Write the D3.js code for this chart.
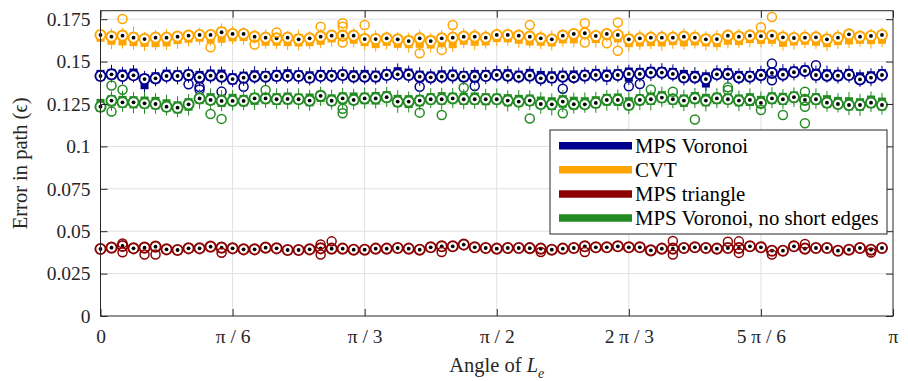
<!DOCTYPE html>
<html>
<head>
<meta charset="utf-8">
<script src="https://cdn.jsdelivr.net/npm/d3@7"></script>
<style>
  body { margin: 0; background: #fff; }
  svg { display: block; }
</style>
</head>
<body>
<svg id="chart" width="908" height="381"></svg>
<script>
// Path error per direction of L_e, 72 directions in [0, π), step 2.5°.
const anglesDeg = d3.range(0, 180, 2.5);

const seriesNames = ["MPS Voronoi", "CVT", "MPS triangle", "MPS Voronoi, no short edges"];
const seriesColors = ["#00008c", "#ffa500", "#8b0000", "#228b22"];

const xTickValues = [0, Math.PI / 6, Math.PI / 3, Math.PI / 2, 2 * Math.PI / 3, 5 * Math.PI / 6, Math.PI];
const xTickLabels = ["0", "π / 6", "π / 3", "π / 2", "2 π / 3", "5 π / 6", "π"];
const yTickValues = [0, 0.025, 0.05, 0.075, 0.1, 0.125, 0.15, 0.175];
const yTickLabels = ["0", "0.025", "0.05", "0.075", "0.1", "0.125", "0.15", "0.175"];

// All values below are in units of 1e-3.
// Medians; box = [median - boxDown, median + boxUp]; whiskers extend beyond the box.

// ---- MPS Voronoi ----
const voronoiMedian = [
  141.5,142.5,141.5,141.9,139.7,140.1,141.5,141.5,142.1,140.7,141.7,141.1,
  139.7,140.5,141.1,141.1,141.5,141.5,141.5,140.5,141.5,141.6,142.1,141.1,
  141.1,141.1,142.1,142.5,142.1,141.1,140.7,141.1,141.7,141.1,141.1,141.5,
  142.1,141.7,141.1,141.7,140.1,140.5,141.1,140.8,141.7,142.1,141.5,142.1,
  142.7,142.7,143.5,143.5,142.7,140.7,140.7,139.7,142.5,142.5,140.7,141.1,
  142.0,143.3,142.3,143.7,144.5,142.1,141.7,141.7,142.1,139.5,140.5,142.1];
const voronoiBoxUp = [
  3.6,3.2,3.8,4.0,3.0,3.6,3.8,3.4,3.2,3.8,3.6,4.2,
  3.4,3.6,3.8,3.4,3.6,4.0,3.4,3.8,3.6,3.4,3.2,3.8,
  4.0,3.6,3.4,4.2,3.8,3.6,3.4,3.8,3.6,3.4,4.0,3.6,
  3.4,3.8,3.6,4.0,4.4,3.8,3.6,4.0,3.4,3.6,3.8,3.4,
  3.8,3.6,3.4,3.2,3.6,4.4,3.8,4.0,3.4,3.6,3.8,3.4,
  3.6,2.0,3.8,3.4,3.2,3.6,3.8,3.4,3.6,4.2,3.8,3.4];
const voronoiBoxDown = [
  2.6,3.0,2.4,2.6,6.0,2.8,2.4,2.6,3.0,3.2,2.8,2.6,
  3.2,2.8,2.4,2.6,3.0,2.4,2.6,2.8,2.4,2.6,2.8,2.4,
  2.6,3.0,2.8,2.4,2.6,3.0,2.8,2.4,2.6,2.8,3.2,2.4,
  2.6,2.8,2.4,2.6,2.8,3.0,2.6,2.4,2.8,2.6,3.2,2.8,
  4.6,3.0,2.6,2.4,2.8,2.6,2.4,5.0,2.6,3.0,2.4,2.6,
  2.8,2.2,2.6,2.8,2.4,3.0,2.6,2.8,2.4,2.6,3.0,2.6];
const voronoiWhiskerUp = [
  1.8,2.4,1.6,2.0,1.8,2.2,1.6,2.0,1.8,1.6,2.2,1.8,
  2.0,1.6,2.4,1.8,2.0,1.6,1.8,2.2,2.0,1.6,1.8,2.0,
  2.4,1.8,1.6,2.2,1.8,2.0,1.6,2.4,1.8,2.0,1.6,1.8,
  2.2,2.0,1.8,1.6,2.0,2.2,1.8,2.4,1.6,2.0,1.8,2.2,
  1.6,2.0,1.8,2.4,2.0,1.8,2.2,1.6,2.0,1.8,1.6,2.2,
  2.0,1.2,2.4,1.6,1.8,2.0,2.2,1.8,2.0,1.6,1.8,2.0];
const voronoiWhiskerDown = [
  2.0,1.8,2.4,1.6,2.2,1.8,2.0,2.4,1.6,2.0,1.8,2.2,
  1.6,2.0,1.8,2.4,1.6,2.0,2.2,1.8,2.0,1.6,2.4,1.8,
  2.0,1.6,2.2,1.8,2.0,2.4,1.6,1.8,2.2,2.0,1.6,2.4,
  1.8,2.0,1.6,2.2,1.8,2.0,2.4,1.6,2.0,1.8,2.2,1.6,
  2.0,1.8,2.4,2.0,1.6,2.2,1.8,2.0,1.6,2.4,1.8,2.0,
  2.2,1.0,1.8,2.0,2.4,1.8,1.6,2.0,2.2,1.8,2.0,1.6];
const voronoiOutliers = [
  [8,136.6],[9,135.0],[9,133.6],[11,132.3],[13,135.2],[29,135.2],[34,135.6],
  [42,134.0],[48,135.4],[49,136.8],[61,148.8],[61,139.0],[65,147.9]];

// ---- CVT ----
const cvtMedian = [
  165.7,164.7,165.3,164.1,163.3,164.1,164.1,164.7,165.3,165.7,165.7,167.3,
  166.3,166.3,164.7,164.1,163.7,164.1,163.1,163.7,164.7,165.3,165.3,165.3,
  163.3,163.3,163.7,163.1,162.1,163.7,162.1,163.7,164.1,164.7,164.7,164.1,
  165.7,165.7,165.3,164.7,163.7,163.1,165.3,166.3,166.7,165.1,166.3,165.7,
  163.1,163.7,164.1,164.1,164.1,164.7,164.1,163.1,163.3,165.3,164.7,165.3,
  165.0,165.3,164.3,163.9,164.1,164.3,163.1,164.1,166.1,164.7,165.1,165.7];
const cvtBoxUp = [
  2.2,1.8,2.5,3.0,2.0,2.6,2.4,1.6,1.8,2.0,1.5,3.2,
  1.8,1.6,2.2,2.8,2.0,2.4,3.2,2.2,1.8,1.6,1.4,2.0,
  2.6,2.8,2.2,2.0,3.0,2.4,3.2,2.6,2.2,1.8,2.4,2.6,
  1.6,1.8,2.0,2.2,2.6,2.8,1.8,1.4,1.6,2.0,1.4,1.8,
  3.0,2.6,2.4,2.2,2.4,2.0,2.6,3.0,2.8,1.8,2.0,1.6,
  1.8,1.6,2.2,2.4,2.2,2.0,3.0,2.4,1.4,2.2,2.0,1.8];
const cvtBoxDown = [
  4.0,4.8,5.8,5.0,4.6,5.6,5.2,4.4,4.2,4.0,4.8,6.2,
  4.4,4.2,3.2,4.8,4.4,5.0,4.2,4.6,4.8,4.0,2.6,4.8,
  4.2,5.4,4.4,5.0,4.2,5.6,4.4,5.2,6.2,4.8,5.4,4.6,
  4.2,4.4,4.8,5.2,4.4,4.2,4.6,5.6,3.0,4.2,3.6,4.4,
  4.6,4.8,5.0,5.2,4.4,5.8,4.6,4.2,4.8,5.4,5.0,4.4,
  4.6,4.8,5.6,4.4,4.2,5.0,4.6,4.4,6.0,4.2,4.8,5.2];
const cvtWhiskerUp = [
  2.4,3.0,2.0,3.6,2.2,1.8,2.6,2.0,1.6,2.2,1.8,2.0,
  2.8,2.4,1.8,2.0,1.0,1.6,2.4,2.0,2.6,1.8,2.2,2.6,
  2.0,2.4,1.8,2.2,2.0,2.8,1.6,2.4,2.0,3.2,2.2,1.8,
  2.4,2.0,1.6,2.2,2.0,2.6,2.2,2.0,2.4,1.8,2.2,2.6,
  2.0,2.4,1.8,2.2,2.0,3.0,2.2,1.8,2.4,2.0,2.6,2.2,
  1.8,2.0,2.4,2.0,2.6,2.2,1.8,2.4,2.0,1.8,2.2,2.6];
const cvtWhiskerDown = [
  2.0,2.6,1.8,2.2,2.4,1.6,2.0,2.8,2.2,1.8,1.6,2.0,
  1.6,2.2,0.8,1.8,2.0,2.4,2.2,1.8,2.0,2.6,1.0,1.8,
  2.4,2.0,2.2,1.6,2.6,2.0,2.4,1.0,2.2,2.0,2.6,1.8,
  2.4,2.0,2.2,1.6,2.0,2.4,1.8,2.2,1.2,2.6,1.0,2.2,
  2.4,2.0,1.8,2.6,2.2,2.0,1.8,2.4,2.0,2.2,1.6,2.4,
  2.0,1.8,2.2,2.6,2.0,1.8,2.4,2.2,2.0,1.8,2.6,2.0];
const cvtOutliers = [
  [2,175.1],[10,158.4],[14,160.1],[16,167.1],[20,170.6],[22,172.6],[22,170.6],
  [22,161.2],[24,171.6],[29,154.9],[31,156.9],[32,171.6],[39,171.6],[44,172.6],
  [44,161.2],[46,160.8],[47,173.0],[47,156.4],[60,170.2],[61,176.3]];

// ---- MPS triangle ----
const triangleMedian = [
  39.5,40.3,41.3,39.9,40.3,40.9,39.3,38.9,39.9,39.9,40.9,40.3,
  39.9,39.3,39.3,40.3,39.9,38.9,38.9,39.3,39.9,39.7,39.7,39.1,
  39.1,39.7,39.7,40.1,39.7,39.1,40.5,41.1,41.1,42.1,40.5,40.1,
  39.7,40.1,40.1,40.0,39.7,39.1,39.7,40.1,41.1,40.5,40.5,41.1,
  40.5,40.5,38.7,39.7,39.7,40.1,40.5,40.1,39.7,40.1,40.1,41.1,
  40.5,38.5,38.5,41.1,39.7,40.1,40.1,38.5,39.1,40.1,39.1,40.1];
const triangleBoxUp = [
  0.8,0.6,1.0,0.8,0.7,0.9,0.6,0.8,1.0,0.7,0.8,0.6,
  0.9,0.8,0.7,1.0,0.6,0.8,0.9,0.7,0.8,0.6,1.0,0.8,
  0.7,0.9,0.8,0.6,0.8,1.0,0.7,0.8,0.6,0.9,0.8,0.7,
  1.0,0.6,0.8,0.9,0.7,0.8,0.6,1.0,1.4,0.8,0.7,0.9,
  0.8,0.6,0.8,1.0,0.7,0.8,0.6,0.9,0.8,0.7,1.0,0.6,
  0.8,0.9,0.7,0.8,0.6,1.0,0.8,0.7,1.6,0.9,0.8,0.6];
const triangleBoxDown = [
  0.7,0.9,0.8,0.6,1.0,0.8,0.7,0.9,0.6,0.8,1.0,0.7,
  0.8,0.6,0.9,0.8,0.7,1.0,0.6,0.8,0.9,0.7,0.8,0.6,
  1.0,0.8,0.7,0.9,0.6,0.8,1.0,0.7,0.8,0.6,0.9,0.8,
  0.7,1.0,0.6,0.8,0.9,0.7,0.8,0.6,1.0,0.8,0.7,0.9,
  0.6,0.8,1.0,0.7,0.8,0.6,0.9,0.8,0.7,1.0,0.6,0.8,
  0.9,0.7,0.8,0.6,1.0,0.8,0.7,0.9,0.6,0.8,1.0,0.7];
const triangleWhiskerUp = [
  1.0,0.8,0.3,0.9,1.1,0.8,1.0,1.2,0.9,0.8,1.1,1.0,
  0.9,1.2,0.8,1.0,1.1,0.9,0.8,1.2,1.0,0.9,1.1,0.8,
  1.0,1.2,0.9,0.8,1.1,1.0,0.9,1.2,0.8,1.0,1.1,0.9,
  0.8,1.2,1.0,0.9,1.1,0.8,1.0,1.2,0.9,0.8,1.1,1.0,
  0.9,1.2,0.8,1.0,1.1,0.9,0.8,1.2,1.0,0.9,1.1,0.8,
  1.0,1.2,0.9,0.8,1.1,1.0,0.9,1.2,0.8,1.0,1.1,0.9];
const triangleWhiskerDown = [
  1.1,0.9,0.8,1.2,1.0,0.9,1.1,0.8,1.0,1.2,0.9,0.8,
  1.1,1.0,0.9,1.2,0.8,1.0,1.1,0.9,0.8,1.2,1.0,0.9,
  1.1,0.8,1.0,1.2,0.9,0.8,1.1,1.0,0.9,1.2,0.8,1.0,
  1.1,0.9,0.8,1.2,0.6,0.9,1.1,0.8,1.0,1.2,0.9,0.8,
  1.1,1.0,0.9,1.2,0.8,1.0,1.1,0.9,0.8,1.2,1.0,0.9,
  1.1,0.8,1.0,1.2,0.9,0.8,1.1,1.0,0.9,1.2,0.3,1.0];
const triangleOutliers = [
  [2,42.8],[2,37.6],[4,36.3],[5,36.3],[11,37.3],[20,42.2],[20,36.3],[21,44.0],
  [31,37.7],[40,37.7],[44,37.7],[52,44.2],[52,36.2],[57,43.8],[58,44.0],[58,37.2],
  [61,36.2],[64,42.4],[70,37.4]];

// ---- MPS Voronoi, no short edges ----
const noShortMedian = [
  123.4,127.0,126.0,126.0,125.4,125.0,123.4,122.8,124.8,128.3,127.4,126.8,
  126.8,126.8,128.3,128.3,127.8,128.0,127.8,127.0,129.8,126.9,128.3,127.4,
  128.3,128.3,129.0,126.4,126.4,127.0,127.8,127.8,128.3,127.8,127.8,127.8,
  127.8,127.0,126.4,127.0,125.0,124.8,126.4,124.9,124.8,125.6,127.4,127.4,
  124.4,127.4,127.8,128.8,127.8,127.0,128.3,127.0,128.3,127.8,127.0,127.4,
  125.6,128.3,127.8,129.0,127.4,127.8,125.8,125.0,124.4,124.4,125.8,124.4];
const noShortBoxUp = [
  4.6,3.2,3.8,3.6,4.0,4.2,4.4,3.8,3.6,3.2,4.0,3.8,
  4.2,3.6,3.2,3.0,3.6,3.8,3.4,4.2,3.0,3.8,3.6,4.4,
  3.4,3.8,3.6,4.0,3.8,3.4,3.6,4.2,3.4,3.8,4.0,3.6,
  3.4,3.8,4.0,3.6,4.4,4.2,3.8,4.4,4.2,4.0,3.6,3.8,
  4.6,3.4,4.0,3.8,2.6,3.6,3.8,4.0,3.4,3.0,3.6,4.0,
  4.2,3.6,3.8,3.4,2.6,3.6,4.4,4.2,4.6,4.0,4.2,4.4];
const noShortBoxDown = [
  3.0,3.4,3.2,3.6,3.0,3.2,2.8,3.4,3.8,3.2,3.0,3.6,
  2.8,3.2,3.8,3.0,3.4,3.2,2.8,3.4,3.6,3.0,3.2,2.8,
  3.4,3.6,3.0,3.2,3.8,3.4,3.0,3.2,2.8,3.4,3.2,3.6,
  3.0,3.4,2.8,3.2,3.0,3.4,3.6,3.2,2.8,3.0,3.4,3.6,
  3.0,3.2,3.4,3.0,3.2,3.8,3.0,3.4,3.2,2.8,3.4,3.6,
  3.0,3.2,3.4,3.0,2.4,3.2,3.0,2.8,3.2,3.4,3.0,3.2];
const noShortWhiskerUp = [
  2.6,2.2,3.0,2.4,2.8,2.2,2.6,3.0,2.4,2.2,2.8,2.6,
  2.4,3.0,2.2,1.0,2.8,2.4,3.0,2.2,2.4,2.8,2.6,2.2,
  3.0,2.4,2.6,2.8,2.2,2.4,3.0,2.6,2.8,2.2,2.4,2.6,
  3.0,2.2,2.8,2.4,2.6,2.2,3.0,2.4,2.8,2.6,2.2,2.4,
  2.8,3.0,1.2,2.6,1.0,2.8,2.4,3.0,2.6,1.2,2.4,2.8,
  2.6,3.0,2.2,2.4,1.0,2.8,2.4,2.2,3.0,2.6,2.4,2.8];
const noShortWhiskerDown = [
  3.0,2.6,2.4,2.8,3.2,2.6,2.4,2.2,2.8,3.0,2.6,2.4,
  2.8,2.2,3.0,2.6,2.4,2.8,3.2,2.6,2.4,2.2,2.8,3.0,
  2.6,2.4,2.8,3.4,2.6,2.4,2.2,2.8,3.0,2.6,2.4,2.8,
  2.2,3.0,2.6,2.4,2.8,3.2,2.6,2.4,2.2,2.8,3.0,2.6,
  2.4,2.8,3.2,2.6,2.2,2.4,2.8,3.0,2.6,2.4,2.8,2.2,
  0.8,2.6,2.4,2.8,0.8,2.6,2.4,2.2,2.8,3.0,2.6,2.4];
const noShortOutliers = [
  [1,135.9],[1,120.5],[2,133.4],[10,119.1],[11,116.2],[15,133.2],[22,122.2],
  [22,119.5],[29,119.9],[31,118.5],[33,134.6],[39,116.4],[42,119.5],[50,133.6],
  [52,132.2],[54,115.9],[57,134.8],[57,133.2],[60,121.5],[62,118.5],[64,132.2],
  [64,123.4],[64,113.6]];

// ---------------------------------------------------------------------------
const FONT = '"Liberation Serif", Tinos, "Times New Roman", "DejaVu Serif", serif';
const plot = { left: 100.5, right: 893, top: 10.7, bottom: 316 };
const axisColor = "#262626";
const gridColor = "#e0e0e0";
const tickFontSize = 19.5;
const labelFontSize = 20.5;

const svg = d3.select("#chart").attr("font-family", FONT);

const x = d3.scaleLinear().domain([0, Math.PI]).range([plot.left, plot.right]);
const y = d3.scaleLinear().domain([0, 0.18]).range([plot.bottom, plot.top]);
const toValue = v => v / 1000;

// grid
const grid = svg.append("g").attr("stroke", gridColor).attr("stroke-width", 1);
grid.selectAll("line.gx").data(xTickValues.slice(1, -1)).join("line")
  .attr("x1", d => x(d)).attr("x2", d => x(d))
  .attr("y1", plot.top).attr("y2", plot.bottom);
grid.selectAll("line.gy").data(yTickValues.slice(1)).join("line")
  .attr("x1", plot.left).attr("x2", plot.right)
  .attr("y1", d => y(d)).attr("y2", d => y(d));

// series
const series = [
  { name: seriesNames[0], color: seriesColors[0], med: voronoiMedian, bu: voronoiBoxUp, bd: voronoiBoxDown, wu: voronoiWhiskerUp, wd: voronoiWhiskerDown, out: voronoiOutliers },
  { name: seriesNames[1], color: seriesColors[1], med: cvtMedian, bu: cvtBoxUp, bd: cvtBoxDown, wu: cvtWhiskerUp, wd: cvtWhiskerDown, out: cvtOutliers },
  { name: seriesNames[2], color: seriesColors[2], med: triangleMedian, bu: triangleBoxUp, bd: triangleBoxDown, wu: triangleWhiskerUp, wd: triangleWhiskerDown, out: triangleOutliers },
  { name: seriesNames[3], color: seriesColors[3], med: noShortMedian, bu: noShortBoxUp, bd: noShortBoxDown, wu: noShortWhiskerUp, wd: noShortWhiskerDown, out: noShortOutliers }
];

const boxWidth = 8;

series.forEach(s => {
  const rows = anglesDeg.map((deg, i) => {
    const med = s.med[i];
    const q3 = med + s.bu[i], q1 = med - s.bd[i];
    return {
      angle: deg * Math.PI / 180,
      med: toValue(med), q1: toValue(q1), q3: toValue(q3),
      hi: toValue(q3 + s.wu[i]), lo: toValue(q1 - s.wd[i])
    };
  });
  const g = svg.append("g").attr("class", "series");

  g.selectAll("line.whisker").data(rows).join("line")
    .attr("class", "whisker")
    .attr("x1", d => x(d.angle)).attr("x2", d => x(d.angle))
    .attr("y1", d => y(d.lo)).attr("y2", d => y(d.hi))
    .attr("stroke", s.color).attr("stroke-width", 1);

  g.selectAll("rect.box").data(rows).join("rect")
    .attr("class", "box")
    .attr("x", d => x(d.angle) - boxWidth / 2).attr("width", boxWidth)
    .attr("y", d => y(d.q3)).attr("height", d => y(d.q1) - y(d.q3))
    .attr("fill", s.color);

  g.selectAll("circle.median").data(rows).join("circle")
    .attr("class", "median")
    .attr("cx", d => x(d.angle)).attr("cy", d => y(d.med)).attr("r", 5.1)
    .attr("fill", "#fff").attr("stroke", s.color).attr("stroke-width", 1.9);

  g.selectAll("circle.dot").data(rows).join("circle")
    .attr("class", "dot")
    .attr("cx", d => x(d.angle)).attr("cy", d => y(d.med)).attr("r", 1.9)
    .attr("fill", "#000");

  g.selectAll("circle.outlier").data(s.out).join("circle")
    .attr("class", "outlier")
    .attr("cx", d => x(anglesDeg[d[0]] * Math.PI / 180)).attr("cy", d => y(toValue(d[1])))
    .attr("r", 4.5).attr("fill", "none")
    .attr("stroke", s.color).attr("stroke-width", 1.5);
});

// axes (ticks point inward, box on all sides)
const tickLen = 7;
const styleAxis = g => {
  g.attr("font-family", FONT);
  g.selectAll(".domain").remove();
  g.selectAll(".tick line").attr("stroke", axisColor);
  g.selectAll(".tick text").attr("fill", axisColor)
    .attr("font-family", FONT)
    .attr("font-size", tickFontSize);
};

svg.append("g").attr("transform", `translate(0,${plot.bottom})`)
  .call(d3.axisBottom(x).tickValues(xTickValues).tickFormat((d, i) => xTickLabels[i])
    .tickSizeInner(-tickLen).tickSizeOuter(0).tickPadding(13))
  .call(styleAxis);
svg.append("g").attr("transform", `translate(0,${plot.top})`)
  .call(d3.axisTop(x).tickValues(xTickValues).tickFormat("")
    .tickSizeInner(-tickLen).tickSizeOuter(0))
  .call(styleAxis);
svg.append("g").attr("transform", `translate(${plot.left},0)`)
  .call(d3.axisLeft(y).tickValues(yTickValues).tickFormat((d, i) => yTickLabels[i])
    .tickSizeInner(-tickLen).tickSizeOuter(0).tickPadding(10))
  .call(styleAxis);
svg.append("g").attr("transform", `translate(${plot.right},0)`)
  .call(d3.axisRight(y).tickValues(yTickValues).tickFormat("")
    .tickSizeInner(-tickLen).tickSizeOuter(0))
  .call(styleAxis);

svg.append("rect")
  .attr("x", plot.left).attr("y", plot.top)
  .attr("width", plot.right - plot.left).attr("height", plot.bottom - plot.top)
  .attr("fill", "none").attr("stroke", axisColor).attr("stroke-width", 1);

// axis titles
svg.append("text")
  .attr("transform", `translate(27,${(plot.top + plot.bottom) / 2}) rotate(-90)`)
  .attr("text-anchor", "middle")
  .attr("font-family", FONT).attr("font-size", labelFontSize).attr("fill", axisColor)
  .text("Error in path (ϵ)");

const xTitle = svg.append("text")
  .attr("x", (plot.left + plot.right) / 2).attr("y", 372)
  .attr("text-anchor", "middle")
  .attr("font-family", FONT).attr("font-size", labelFontSize).attr("fill", axisColor);
xTitle.append("tspan").text("Angle of ");
xTitle.append("tspan").attr("font-style", "italic").text("L");
xTitle.append("tspan").attr("dy", 6).attr("font-style", "italic").attr("font-size", 14).text("e");

// legend
const legend = svg.append("g").attr("transform", "translate(550,130)");
legend.append("rect").attr("width", 337).attr("height", 104)
  .attr("fill", "#fff").attr("stroke", axisColor).attr("stroke-width", 1);
const rowY = [15.7, 39.7, 64, 88];
series.forEach((s, i) => {
  legend.append("line")
    .attr("x1", 9).attr("x2", 82).attr("y1", rowY[i]).attr("y2", rowY[i])
    .attr("stroke", s.color).attr("stroke-width", 7.5);
  legend.append("text")
    .attr("x", 85).attr("y", rowY[i] + 7)
    .attr("font-family", FONT).attr("font-size", 20.8).attr("fill", "#000")
    .text(s.name);
});
</script>
</body>
</html>
